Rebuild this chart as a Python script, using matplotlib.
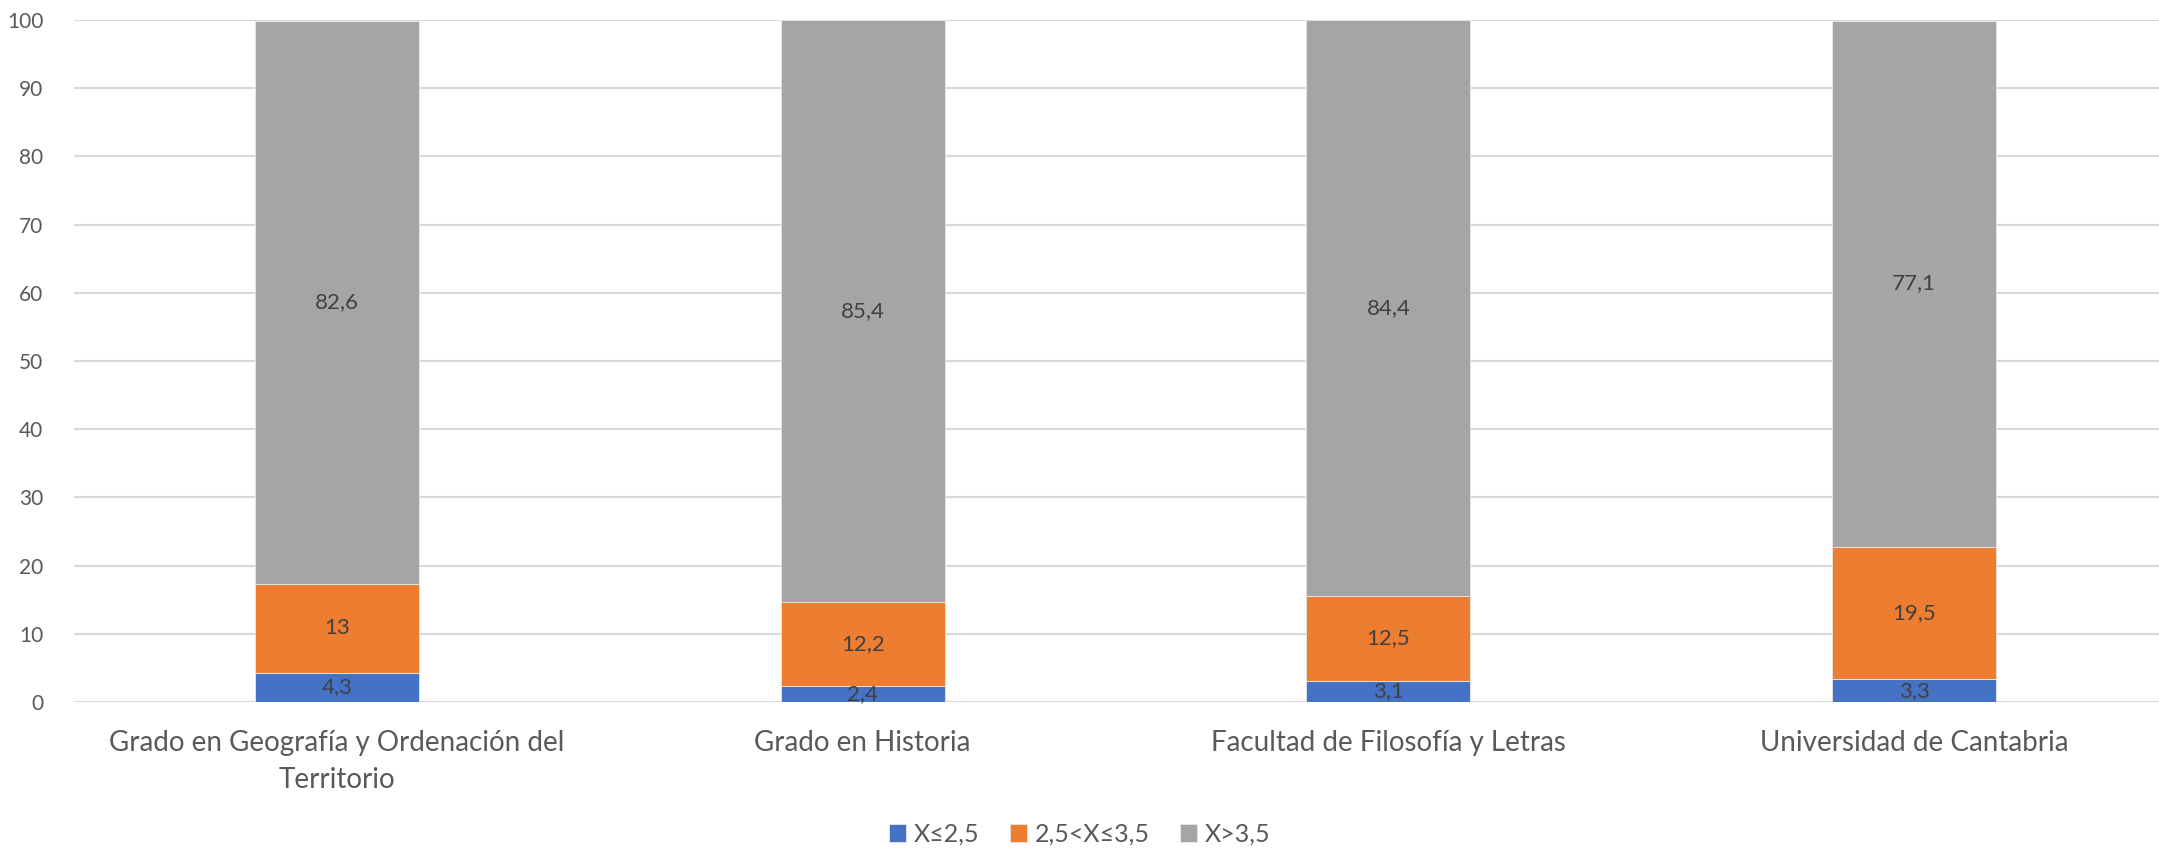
import numpy as np
import matplotlib
matplotlib.use('Agg')
from matplotlib import pyplot as plt

# chart data
categories = ['Grado en Geografía y Ordenación del\nTerritorio', 'Grado en Historia',
              'Facultad de Filosofía y Letras', 'Universidad de Cantabria']
series_names = ['X≤2,5', '2,5<X≤3,5', 'X>3,5']
low = [4.3, 2.4, 3.1, 3.3]
mid = [13, 12.2, 12.5, 19.5]
high = [82.6, 85.4, 84.4, 77.1]
colors = ['#4472C4', '#ED7D31', '#A5A5A5']

plt.rcParams['font.family'] = ['Lato', 'DejaVu Sans']
text_color = '#595959'

W, H = 2159, 848
fig = plt.figure(figsize=(W / 100, H / 100), dpi=100)
# axes box in pixels: left 74, right 2177, top 20, bottom 702
ax = fig.add_axes([74 / W, 1 - 702 / H, (2177 - 74) / W, (702 - 20) / H])

x = np.arange(len(categories))
bottom = np.zeros(len(categories))
for vals, name, c in zip([low, mid, high], series_names, colors):
    vals = np.array(vals, dtype=float)
    ax.bar(x, vals, width=0.312, bottom=bottom, color=c, label=name,
           edgecolor='#e8e8e8', linewidth=0.6, zorder=3)
    for xi, b, v in zip(x, bottom, vals):
        lbl = ('%g' % v).replace('.', ',')
        ax.text(xi, b + v / 2, lbl, ha='center', va='center',
                fontsize=16, color='#404040', zorder=4)
    bottom += vals

ax.set_xlim(-0.5, len(categories) - 0.5)
ax.set_ylim(0, 100)
ax.set_yticks(range(0, 101, 10))
ax.yaxis.grid(True, color='#d9d9d9', linewidth=1.5, zorder=0)
ax.set_axisbelow(True)
for s in ax.spines.values():
    s.set_visible(False)
ax.tick_params(axis='both', length=0, colors=text_color)
ax.tick_params(axis='y', labelsize=15, pad=22)
ax.set_xticks(x)
ax.set_xticklabels(categories, fontsize=20, color=text_color, linespacing=1.55)
ax.tick_params(axis='x', pad=20)

leg = fig.legend(loc='center', bbox_to_anchor=(0.5, 1 - 834 / H), ncol=3,
                 frameon=False, fontsize=18, handlelength=0.7, handleheight=0.7,
                 handletextpad=0.3, columnspacing=1.2)
for t in leg.get_texts():
    t.set_color(text_color)

fig.savefig('out.png', dpi=100)
